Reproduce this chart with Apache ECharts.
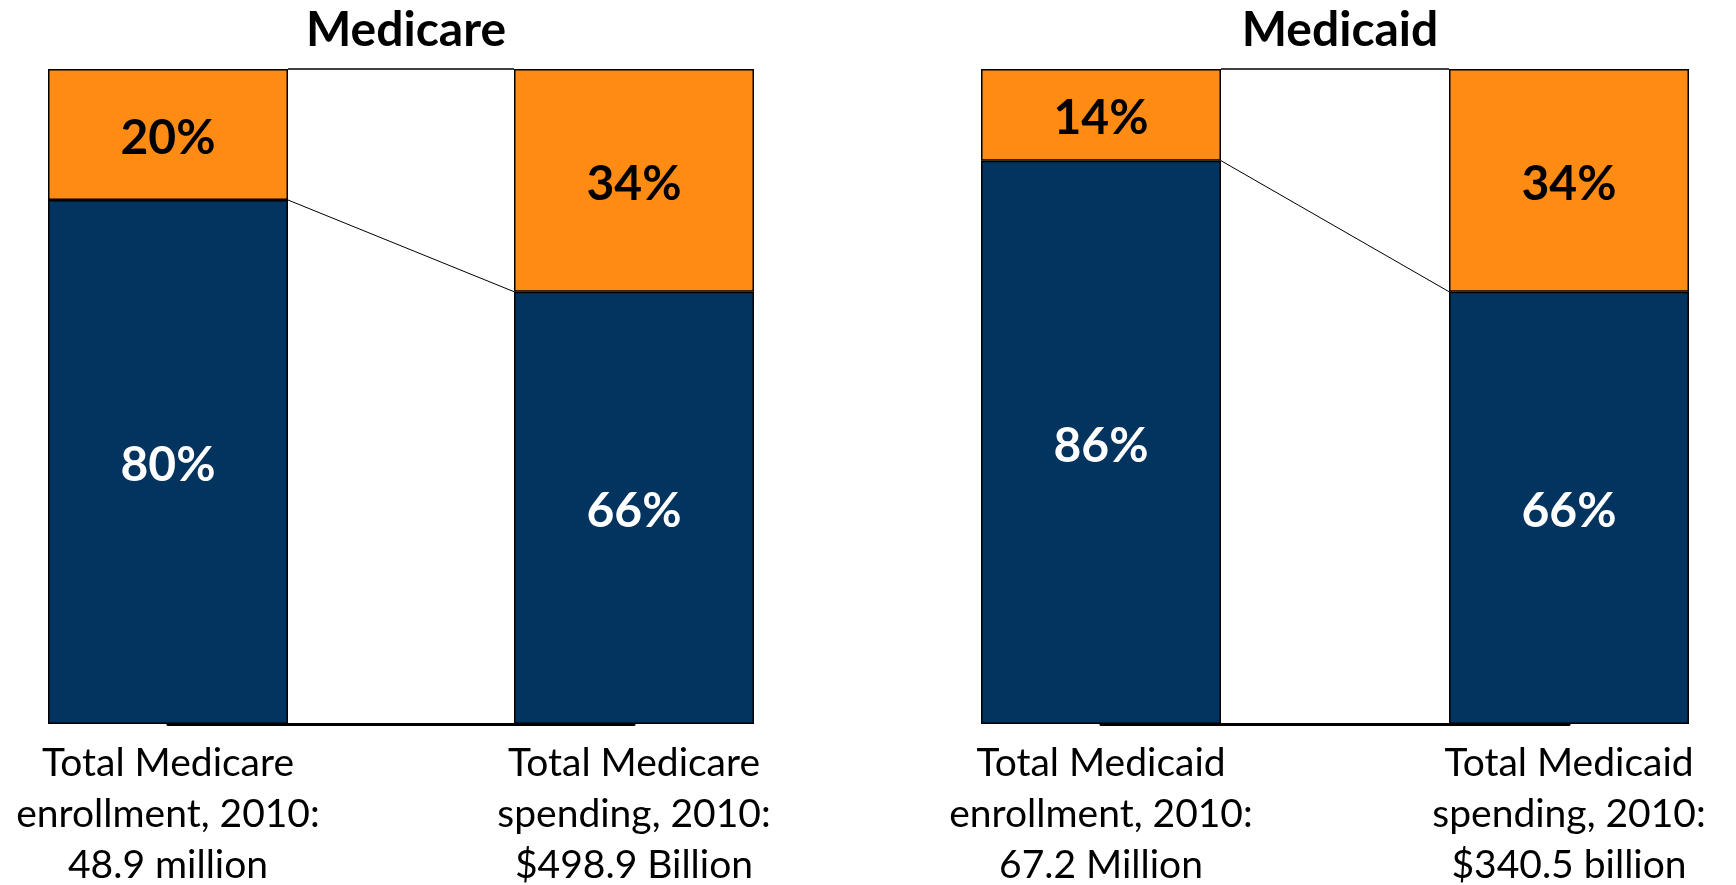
<!DOCTYPE html>
<html>
<head>
<meta charset="utf-8">
<title>Medicare and Medicaid</title>
<script src="https://cdn.jsdelivr.net/npm/echarts@6/dist/echarts.min.js"></script>
<style>
  html, body { margin: 0; padding: 0; background: #fff; }
  #chart { width: 1736px; height: 885px; }
</style>
</head>
<body>
<div id="chart"></div>
<script>
// panel titles
const panelTitles = ['Medicare', 'Medicaid']

// category labels under the bars
const medicareCategories = [
  'Total Medicare\nenrollment, 2010:\n48.9 million',
  'Total Medicare\nspending, 2010:\n$498.9 Billion'
]
const medicaidCategories = [
  'Total Medicaid\nenrollment, 2010:\n67.2 Million',
  'Total Medicaid\nspending, 2010:\n$340.5 billion'
]

// shares in percent: lower (navy) and upper (orange) segments
const medicareRest = [80, 66]
const medicareTop = [20, 34]
const medicaidRest = [86, 66]
const medicaidTop = [14, 34]

const NAVY = '#03335f'
const ORANGE = '#fd8b14'
const FONT = 'Lato, sans-serif'
const BAR_WIDTH = 240

const panels = [
  { left: 168, width: 466, categories: medicareCategories, rest: medicareRest, top: medicareTop },
  { left: 1101, width: 468, categories: medicaidCategories, rest: medicaidRest, top: medicaidTop }
]

function barSeries(i, name, values, color, labelColor) {
  return {
    name: name,
    type: 'bar',
    stack: 'p' + i,
    xAxisIndex: i,
    yAxisIndex: i,
    barWidth: BAR_WIDTH,
    data: values,
    itemStyle: {
      color: color,
      borderColor: '#000',
      borderWidth: 1.5
    },
    label: {
      show: true,
      position: 'inside',
      offset: [0, 4],
      formatter: '{c}%',
      color: labelColor,
      fontFamily: FONT,
      fontWeight: 'bold',
      fontSize: 48
    }
  }
}

// lines joining the segment tops of the two bars (like Excel series lines)
function connectorSeries(i, rest, top) {
  const levels = [
    [0, rest[0], 1, rest[1]],
    [0, rest[0] + top[0], 1, rest[1] + top[1]]
  ]
  return {
    type: 'custom',
    xAxisIndex: i,
    yAxisIndex: i,
    z: 4,
    silent: true,
    encode: { x: [0, 2], y: [1, 3] },
    data: levels,
    renderItem(params, api) {
      const a = api.coord([api.value(0), api.value(1)])
      const b = api.coord([api.value(2), api.value(3)])
      return {
        type: 'line',
        shape: {
          x1: a[0] + BAR_WIDTH / 2,
          y1: a[1],
          x2: b[0] - BAR_WIDTH / 2,
          y2: b[1]
        },
        style: {
          stroke: '#000',
          lineWidth: params.dataIndex === 1 ? 1.5 : 1
        }
      }
    }
  }
}

const chart = echarts.init(document.getElementById('chart'))

const grid = []
const xAxis = []
const yAxis = []
const series = []
const title = []

panels.forEach((p, i) => {
  grid.push({ left: p.left, width: p.width, top: 69, height: 655, outerBoundsMode: 'none' })
  xAxis.push({
    type: 'category',
    gridIndex: i,
    boundaryGap: false,
    data: p.categories,
    z: 5,
    axisLine: { lineStyle: { color: '#000', width: 3 } },
    axisTick: { show: false },
    axisLabel: {
      margin: 14,
      color: '#000',
      fontFamily: FONT,
      fontSize: 39,
      lineHeight: 51
    }
  })
  yAxis.push({ type: 'value', gridIndex: i, min: 0, max: 100, show: false })
  series.push(barSeries(i, 'rest', p.rest, NAVY, '#fff'))
  series.push(barSeries(i, 'top', p.top, ORANGE, '#000'))
  series.push(connectorSeries(i, p.rest, p.top))
  title.push({
    text: panelTitles[i],
    left: p.left + p.width / 2,
    top: 2,
    textAlign: 'center',
    textStyle: { fontFamily: FONT, fontWeight: 'bold', fontSize: 48, color: '#000' }
  })
})

chart.setOption({
  backgroundColor: '#fff',
  animation: false,
  title: title,
  grid: grid,
  xAxis: xAxis,
  yAxis: yAxis,
  series: series
})
</script>
</body>
</html>
